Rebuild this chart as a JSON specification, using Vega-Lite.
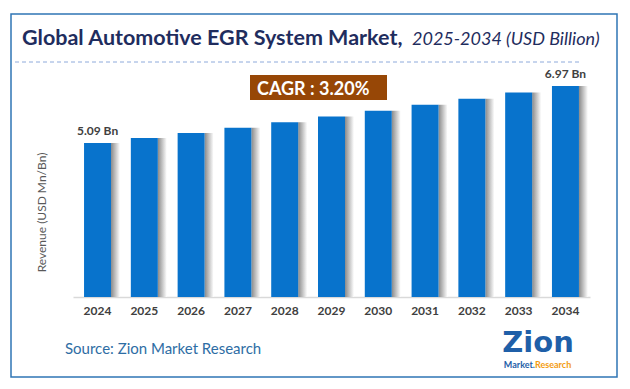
{
  "$schema": "https://vega.github.io/schema/vega-lite/v6.json",
  "width": 517,
  "height": 227,
  "autosize": "none",
  "padding": {"left": 73, "top": 70, "right": 40, "bottom": 92},
  "background": "white",
  "config": {"view": {"stroke": null}, "font": "Lato"},
  "datasets": {
    "market": [
      {"year": "2024", "value": 5.09, "label": "5.09 Bn"},
      {"year": "2025", "value": 5.25, "label": ""},
      {"year": "2026", "value": 5.42, "label": ""},
      {"year": "2027", "value": 5.59, "label": ""},
      {"year": "2028", "value": 5.77, "label": ""},
      {"year": "2029", "value": 5.96, "label": ""},
      {"year": "2030", "value": 6.15, "label": ""},
      {"year": "2031", "value": 6.35, "label": ""},
      {"year": "2032", "value": 6.55, "label": ""},
      {"year": "2033", "value": 6.76, "label": ""},
      {"year": "2034", "value": 6.97, "label": "6.97 Bn"}
    ],
    "one": [{}]
  },
  "data": {"name": "market"},
  "layer": [
    {
      "data": {"name": "one"},
      "mark": {"type": "rect", "fill": null, "stroke": "#2f75b5", "strokeWidth": 1.5},
      "encoding": {"x": {"value": -62}, "x2": {"value": 544}, "y": {"value": -56}, "y2": {"value": 307}}
    },
    {
      "data": {"name": "one"},
      "mark": {"type": "rule", "stroke": "#8eaadb", "strokeDash": [4, 3], "strokeWidth": 1},
      "encoding": {"x": {"value": -58}, "x2": {"value": 508}, "y": {"value": -8}}
    },
    {
      "data": {"name": "one"},
      "mark": {"type": "text", "text": "Global Automotive EGR System Market,", "align": "left", "baseline": "alphabetic", "fontSize": 21.5, "fontWeight": "bold", "color": "#1f2d5e"},
      "encoding": {"x": {"value": -51}, "y": {"value": -25}}
    },
    {
      "data": {"name": "one"},
      "mark": {"type": "text", "text": "2025-2034 (USD Billion)", "align": "left", "baseline": "alphabetic", "fontSize": 18, "fontStyle": "italic", "color": "#1f2d5e"},
      "encoding": {"x": {"value": 339}, "y": {"value": -25}}
    },
    {
      "data": {"name": "one"},
      "mark": {"type": "rect", "fill": "#974706"},
      "encoding": {"x": {"value": 177}, "x2": {"value": 314}, "y": {"value": 5}, "y2": {"value": 30}}
    },
    {
      "data": {"name": "one"},
      "mark": {"type": "text", "text": "CAGR :  3.20%", "align": "left", "baseline": "alphabetic", "fontSize": 18, "fontWeight": "bold", "color": "white"},
      "encoding": {"x": {"value": 184}, "y": {"value": 25}}
    },
    {
      "mark": {
        "type": "bar",
        "width": 9,
        "xOffset": 18,
        "color": {"gradient": "linear", "x1": 0, "x2": 1, "y1": 0, "y2": 0,
          "stops": [{"offset": 0, "color": "#8a8a8a"}, {"offset": 1, "color": "#ffffff"}]}
      },
      "encoding": {
        "x": {"field": "year", "type": "nominal", "sort": null,
          "scale": {"paddingInner": 0.423, "paddingOuter": 0.236},
          "axis": {"title": null, "ticks": false, "labelAngle": 0, "labelFontWeight": "bold", "labelFontSize": 12, "labelColor": "#404040", "labelPadding": 8, "domainColor": "#d9d9d9", "domainWidth": 1.5}},
        "y": {"field": "value", "type": "quantitative", "scale": {"domain": [0, 7.5], "nice": false},
          "axis": {"title": "Revenue (USD Mn/Bn)", "labels": false, "ticks": false, "domain": false, "grid": false, "titleFontSize": 12, "titleFontWeight": "normal", "titleColor": "#595959", "titleX": -32, "titleY": 142, "titleBaseline": "middle", "titleAlign": "center"}}
      }
    },
    {
      "mark": {"type": "bar", "color": "#0873cc"},
      "encoding": {
        "x": {"field": "year", "type": "nominal", "sort": null},
        "y": {"field": "value", "type": "quantitative"}
      }
    },
    {
      "mark": {"type": "text", "dy": -8, "baseline": "alphabetic", "fontSize": 12, "fontWeight": "bold", "color": "#404040"},
      "encoding": {
        "x": {"field": "year", "type": "nominal", "sort": null},
        "y": {"field": "value", "type": "quantitative"},
        "text": {"field": "label"}
      }
    },
    {
      "data": {"name": "one"},
      "mark": {"type": "text", "text": "Source: Zion Market Research", "align": "left", "baseline": "alphabetic", "fontSize": 15, "color": "#2e6da4"},
      "encoding": {"x": {"value": -8}, "y": {"value": 284}}
    },
    {
      "data": {"name": "one"},
      "mark": {"type": "text", "text": "Zion", "align": "center", "baseline": "alphabetic", "fontSize": 29, "font": "DejaVu Sans", "fontWeight": "bold", "color": "#1f5fa8"},
      "encoding": {"x": {"value": 465}, "y": {"value": 282}}
    },
    {
      "data": {"name": "one"},
      "mark": {"type": "text", "text": "Market.", "align": "right", "baseline": "alphabetic", "fontSize": 9, "fontWeight": "bold", "color": "#1f5fa8"},
      "encoding": {"x": {"value": 462}, "y": {"value": 298}}
    },
    {
      "data": {"name": "one"},
      "mark": {"type": "text", "text": "Research", "align": "left", "baseline": "alphabetic", "fontSize": 9, "fontWeight": "bold", "color": "#f39c12"},
      "encoding": {"x": {"value": 462}, "y": {"value": 298}}
    }
  ]
}
